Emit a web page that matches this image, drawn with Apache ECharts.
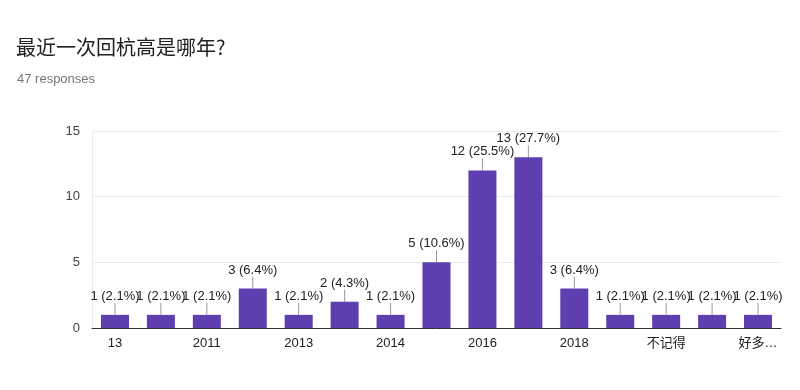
<!DOCTYPE html>
<html><head><meta charset="utf-8">
<script src="https://cdn.jsdelivr.net/npm/echarts@6/dist/echarts.min.js"></script>
<style>html,body{margin:0;padding:0;background:#fff}#c{width:800px;height:390px}</style>
</head><body><div id="c"></div>
<script>
const categories = ['13','2010','2011','2012','2013','2013年','2014','2015','2016','2017','2018','2019','不记得','忘了','好多…'];
const values = [1,1,1,3,1,2,1,5,12,13,3,1,1,1,1];
const yTicks = [0,5,10,15];
const total = values.reduce((a,b)=>a+b,0);
const chart = echarts.init(document.getElementById('c'));
const font = 'Liberation Sans, Arial, sans-serif';
chart.setOption({
  animation:false,
  title:[
    {text:'最近一次回杭高是哪年?',left:11,top:32,textStyle:{fontSize:20,fontWeight:'normal',color:'#202124',fontFamily:'Noto Sans CJK SC, sans-serif'}},
    {text: total + ' responses',left:12,top:68,textStyle:{fontSize:13,fontWeight:'normal',color:'#70757a',fontFamily:font}}
  ],
  grid:{left:92,right:19,top:131,bottom:62},
  xAxis:{type:'category',data:categories,
    axisLine:{lineStyle:{color:'#333'}},axisTick:{show:false},
    axisLabel:{interval:1,color:'#222',fontSize:13,fontFamily:'Liberation Sans, Noto Sans CJK SC, sans-serif',margin:9}},
  yAxis:{type:'value',min:yTicks[0],max:yTicks[yTicks.length-1],interval:5,
    axisLabel:{color:'#444',fontSize:13,fontFamily:font,margin:12},
    splitLine:{lineStyle:{color:'#ebebeb'}},axisLine:{show:true,lineStyle:{color:'#ededed'}},axisTick:{show:false}},
  series:[
    {type:'bar',data:values,barWidth:'61%',itemStyle:{color:'#5f3fb0'},
     label:{show:true,position:'top',distance:12,color:'#222',fontSize:13,fontFamily:font,
       formatter:p=>p.value+' ('+(p.value/total*100).toFixed(1)+'%)'}},
    {type:'custom',data:values.map((v,i)=>[i,v]),z:1,
     renderItem:(params,api)=>{
       const pt=api.coord([api.value(0),api.value(1)]);
       return {type:'line',shape:{x1:pt[0],y1:pt[1],x2:pt[0],y2:pt[1]-12},style:{stroke:'#999',lineWidth:1}};
     }}
  ]
});
</script></body></html>
